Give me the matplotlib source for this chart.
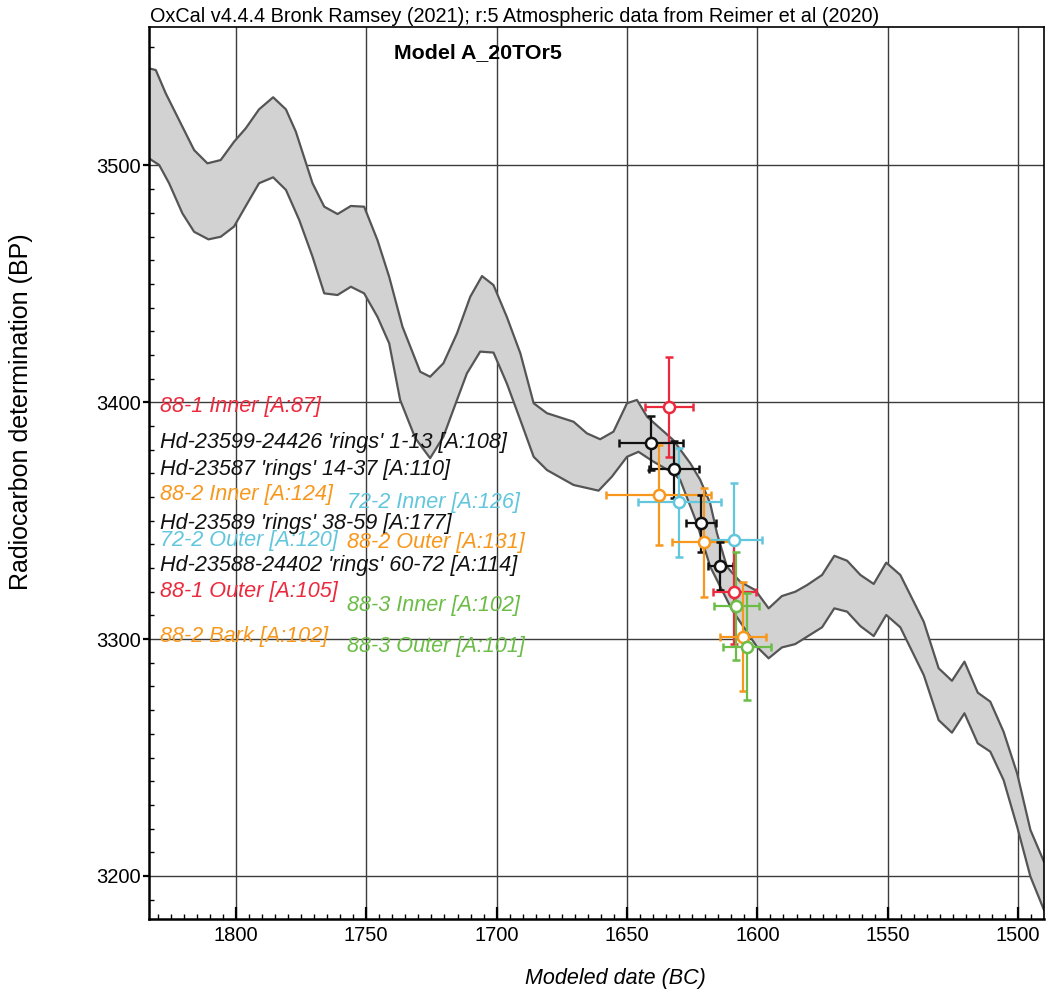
import numpy as np
import matplotlib
matplotlib.use("Agg")
import matplotlib.pyplot as plt
import matplotlib.transforms as mtransforms
from matplotlib.ticker import MultipleLocator

plt.rcParams["font.family"] = ["Liberation Sans", "DejaVu Sans"]

# IntCal20 band (calendar year BC, 14C age BP), upper and lower 1-sigma edges
cal_hi_year = [1833.3, 1830.7, 1826.9, 1820.5, 1816.0, 1810.9, 1805.8, 1800.7,
               1796.2, 1791.1, 1785.7, 1780.8, 1777.0, 1770.6, 1766.1, 1761.0,
               1755.9, 1750.8, 1745.7, 1741.2, 1736.1, 1729.3, 1725.5, 1720.4,
               1715.2, 1710.1, 1705.6, 1701.2, 1696.1, 1690.9, 1685.8, 1680.7,
               1670.5, 1665.4, 1660.3, 1655.2, 1650.0, 1646.2, 1642.3, 1632.3,
               1625.7, 1621.9, 1618.1, 1615.5, 1611.7, 1606.6, 1600.8, 1595.7,
               1590.6, 1585.5, 1581.0, 1575.2, 1570.5, 1565.6, 1560.5, 1555.4,
               1550.6, 1545.2, 1536.2, 1530.5, 1525.4, 1520.6, 1515.5, 1510.7,
               1505.6, 1500.4, 1495.3, 1490.1]
cal_hi_bp = [3541.0, 3540.3, 3530.5, 3516.4, 3506.5, 3500.9, 3502.3, 3510.0,
             3515.7, 3523.7, 3528.8, 3523.7, 3514.3, 3492.5, 3482.6, 3479.5,
             3482.9, 3482.6, 3468.5, 3453.0, 3431.9, 3412.9, 3410.8, 3416.5,
             3429.1, 3444.6, 3453.3, 3449.5, 3436.1, 3420.7, 3399.6, 3395.4,
             3391.8, 3386.9, 3384.4, 3387.6, 3399.6, 3401.0, 3393.9, 3384.1,
             3374.2, 3367.2, 3357.3, 3344.7, 3330.6, 3324.2, 3320.7, 3313.0,
             3318.2, 3320.0, 3322.8, 3327.1, 3335.2, 3333.1, 3327.1, 3323.3,
             3332.3, 3327.1, 3307.3, 3287.7, 3282.4, 3290.5, 3277.4, 3273.6,
             3260.9, 3243.3, 3219.4, 3206.0]

cal_lo_year = [1833.3, 1829.4, 1825.6, 1820.5, 1816.0, 1810.5, 1805.8, 1800.7,
               1795.6, 1791.1, 1785.7, 1780.8, 1775.7, 1770.6, 1766.1, 1761.0,
               1755.9, 1750.8, 1745.7, 1741.2, 1737.0, 1731.2, 1725.5, 1720.4,
               1715.2, 1711.4, 1706.3, 1701.2, 1696.1, 1690.9, 1685.8, 1680.7,
               1670.5, 1660.9, 1655.8, 1650.0, 1645.6, 1639.8, 1632.1, 1629.6,
               1623.2, 1618.1, 1614.9, 1609.7, 1600.2, 1595.7, 1590.6, 1585.5,
               1581.0, 1575.2, 1570.5, 1565.6, 1560.5, 1555.4, 1550.6, 1545.2,
               1536.2, 1530.5, 1525.4, 1520.6, 1515.5, 1510.7, 1505.6, 1500.4,
               1495.3, 1490.1]
cal_lo_bp = [3503.0, 3500.2, 3492.5, 3479.8, 3472.0, 3468.8, 3469.9, 3474.2,
             3484.0, 3492.5, 3495.0, 3489.7, 3477.0, 3461.5, 3446.0, 3445.3,
             3448.8, 3446.0, 3436.1, 3424.9, 3401.0, 3384.9, 3376.4, 3385.5,
             3401.0, 3412.2, 3421.4, 3421.0, 3408.0, 3392.5, 3377.0, 3371.4,
             3365.1, 3362.7, 3368.6, 3377.0, 3379.1, 3374.9, 3370.0, 3367.2,
             3348.9, 3330.6, 3323.6, 3312.3, 3296.8, 3291.9, 3296.5, 3297.9,
             3301.0, 3305.0, 3313.0, 3311.6, 3305.5, 3301.3, 3310.2, 3305.0,
             3284.8, 3265.8, 3260.5, 3268.7, 3256.0, 3252.5, 3240.5, 3220.8,
             3199.7, 3185.6]

# modelled samples: label, modelled date (BC) +/- , radiocarbon age (BP) +/-
sample_names = ["88-1 Inner [A:87]",
                "Hd-23599-24426 'rings' 1-13 [A:108]",
                "Hd-23587 'rings' 14-37 [A:110]",
                "88-2 Inner [A:124]",
                "72-2 Inner [A:126]",
                "Hd-23589 'rings' 38-59 [A:177]",
                "72-2 Outer [A:120]",
                "88-2 Outer [A:131]",
                "Hd-23588-24402 'rings' 60-72 [A:114]",
                "88-1 Outer [A:105]",
                "88-3 Inner [A:102]",
                "88-2 Bark [A:102]",
                "88-3 Outer [A:101]"]
sample_date = [1633.9, 1640.8, 1631.9, 1637.9, 1630.0, 1621.6, 1609.1,
               1620.6, 1614.2, 1608.9, 1608.1, 1605.5, 1604.0]
sample_date_err = [9.1, 12.2, 9.5, 20.0, 15.9, 5.8, 10.9,
                   12.3, 4.8, 8.2, 8.7, 8.7, 9.1]
sample_bp = [3398.1, 3382.9, 3371.7, 3360.9, 3357.8, 3348.9, 3341.8,
             3340.9, 3330.9, 3320.0, 3314.0, 3301.0, 3296.8]
sample_bp_err = [21, 11.3, 12, 21, 23, 12, 24, 23, 10, 22, 23, 23, 22.5]
sample_group = ["red", "black", "black", "orange", "cyan", "black", "cyan",
                "orange", "black", "red", "green", "orange", "green"]
label_column = [0, 0, 0, 0, 1, 0, 0, 1, 0, 0, 1, 0, 1]

colors = {"red": "#ec2a3e", "black": "#111111", "orange": "#f7981d",
          "cyan": "#62c6dc", "green": "#6bbd47"}

fig = plt.figure(figsize=(10.51, 9.92), dpi=100)
ax = fig.add_axes([149 / 1051, 1 - 919.3 / 992, 895 / 1051, 892.6 / 992])

# calibration band
poly_x = np.concatenate([cal_hi_year, cal_lo_year[::-1]])
poly_y = np.concatenate([cal_hi_bp, cal_lo_bp[::-1]])
ax.fill(poly_x, poly_y, color="#d2d2d2", lw=0, zorder=1)
ax.plot(cal_hi_year, cal_hi_bp, color="#555555", lw=1.6, zorder=2)
ax.plot(cal_lo_year, cal_lo_bp, color="#555555", lw=1.6, zorder=2)

for i in range(len(sample_names)):
    c = colors[sample_group[i]]
    ax.errorbar(sample_date[i], sample_bp[i], xerr=sample_date_err[i],
                yerr=sample_bp_err[i], fmt="o", color=c, ecolor=c,
                mfc="white", mec=c, ms=8, mew=1.8, elinewidth=1.6,
                capsize=2.8, capthick=1.6, zorder=4)

# sample names on the left, at the radiocarbon age of each sample
trans = mtransforms.blended_transform_factory(ax.transAxes, ax.transData)
col_x = [0.012, 0.221]
for i, name in enumerate(sample_names):
    ax.text(col_x[label_column[i]], sample_bp[i], name, transform=trans,
            color=colors[sample_group[i]], fontsize=15.6, style="italic",
            va="center", ha="left", zorder=5)

ax.set_xlim(1833.3, 1490.1)
ax.set_ylim(3181.7, 3558.6)
ax.xaxis.set_major_locator(MultipleLocator(50))
ax.xaxis.set_minor_locator(MultipleLocator(5))
ax.yaxis.set_major_locator(MultipleLocator(100))
ax.yaxis.set_minor_locator(MultipleLocator(10))
ax.grid(True, which="major", color="#3c3c3c", lw=1.0, zorder=0)
ax.set_axisbelow(True)

ax.tick_params(axis="x", which="major", direction="in", length=8.5, width=1.6,
               labelsize=14.5, pad=5)
ax.tick_params(axis="x", which="minor", direction="in", length=3.5, width=1.0)
ax.tick_params(axis="y", which="major", direction="out", length=4, width=1.6,
               labelsize=14.5, pad=2)
ax.tick_params(axis="y", which="minor", direction="in", length=3.5, width=1.0)

for side in ["left", "bottom"]:
    ax.spines[side].set_linewidth(1.8)
for side in ["top", "right"]:
    ax.spines[side].set_linewidth(1.2)

ax.set_xlabel("Modeled date (BC)", fontsize=15.5, style="italic")
ax.xaxis.set_label_coords((615 - 149) / 895, -0.054)
ax.set_ylabel("Radiocarbon determination (BP)", fontsize=18)
ax.yaxis.set_label_coords(-0.13, 0.569)

ax.text(0.367, 0.971, "Model A_20TOr5", transform=ax.transAxes,
        fontsize=15.4, fontweight="bold", ha="center", va="center")
fig.text(150 / 1051, 1 - 16.5 / 992,
         "OxCal v4.4.4 Bronk Ramsey (2021); r:5 Atmospheric data from Reimer et al (2020)",
         fontsize=14.3, ha="left", va="center")

fig.savefig("out.png", dpi=100)
